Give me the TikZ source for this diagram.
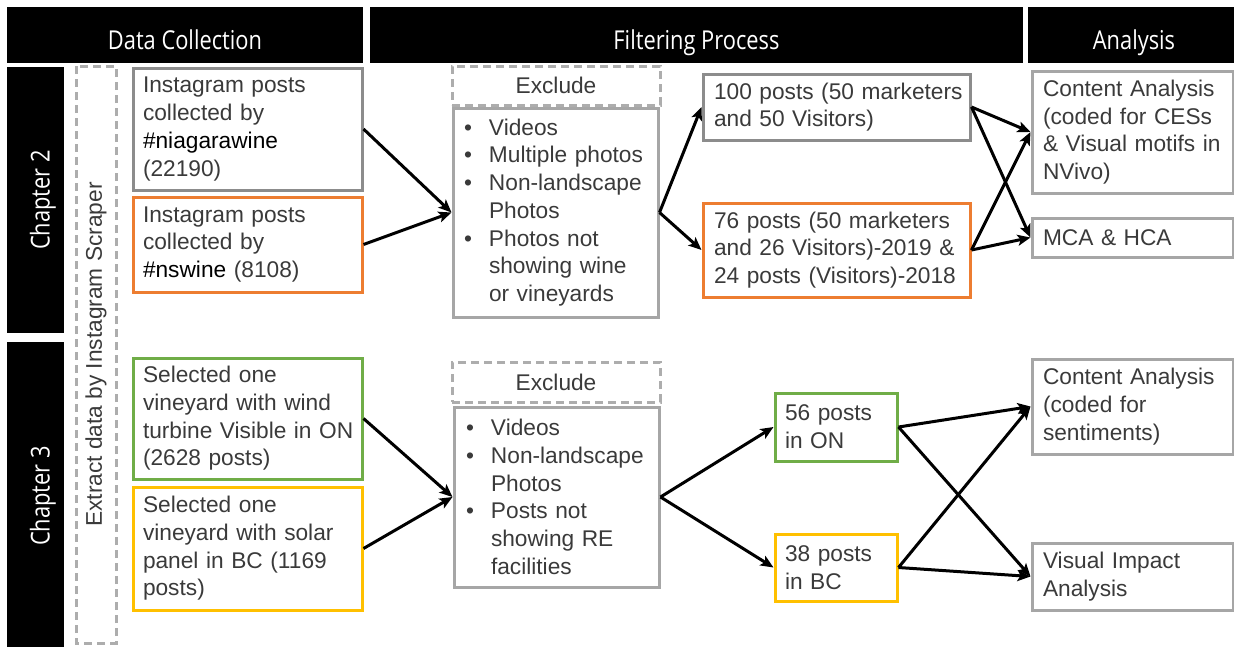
\documentclass[tikz,border=0pt]{standalone}
\usepackage{fontspec}
\setmainfont{Liberation Sans}
\newfontfamily\hdrfont[FakeStretch=0.84]{Open Sans}
\usetikzlibrary{arrows.meta}

\definecolor{darkframe}{HTML}{8C8C8C}
\definecolor{lightframe}{HTML}{A6A6A6}
\definecolor{dashframe}{HTML}{ADADAD}
\definecolor{orangeframe}{HTML}{ED7D31}
\definecolor{greenframe}{HTML}{70AD47}
\definecolor{goldframe}{HTML}{FFC000}
\definecolor{ink}{HTML}{3A3A3A}

% no hyphenation inside the boxes
\hyphenpenalty=10000
\exhyphenpenalty=10000

% bullet list helpers
\newcommand\lstbul[1]{\makebox[25pt][l]{\textbullet}\mbox{#1}}
\newcommand\lstind[1]{\hspace*{25pt}\mbox{#1}}

\begin{document}
\begin{tikzpicture}[x=1pt,y=-1pt,
  body/.style={font=\fontsize{22.7}{27.7}\selectfont, text=ink},
  framed/.style={body, draw=#1, line width=3pt, rectangle, inner xsep=10pt,
                 inner ysep=0pt, align=left},
  dashbox/.style={body, draw=dashframe, line width=3pt, dash pattern=on 8pt off 5pt,
                  rectangle, inner sep=0pt},
  bar/.style={fill=black, text=white, inner sep=0pt, text height=30pt, text depth=2pt,
              font=\hdrfont\fontsize{26}{30}\selectfont},
  link/.style={-{Stealth[length=13pt,width=11pt,inset=3pt]}, line width=3pt, black}
]
\useasboundingbox (0,0) rectangle (1234,646);

% column headers
\node[bar, minimum width=356, minimum height=56] (hdata) at (185,35) {Data Collection};
\node[bar, minimum width=653, minimum height=56] (hfilter) at (696.5,35) {Filtering Process};
\node[bar, minimum width=212, minimum height=56] (hanalysis) at (1134,35) {Analysis};

% chapter bars
\node[bar, rotate=90, minimum width=266, minimum height=57] (ch2) at (35.5,200) {Chapter 2};
\node[bar, rotate=90, minimum width=308, minimum height=57] (ch3) at (35.5,496) {Chapter 3};

% scraper band
\node[dashbox, rotate=90, minimum width=577, minimum height=40] (scraper) at (96,354.5)
  {Extract data by Instagram Scraper};

% data collection
\node[framed=darkframe, minimum width=229, text width=209, minimum height=122] (a1) at (247.5,129)
  {Instagram posts\\collected by\\{\color{black}\#niagarawine}\\(22190)};
\node[framed=orangeframe, minimum width=229, text width=209, minimum height=95] (a2) at (247.5,244.5)
  {Instagram posts\\collected by\\{\color{black}\#nswine} (8108)};
\node[framed=greenframe, minimum width=229, text width=209, minimum height=121] (a3) at (247.5,418.5)
  {Selected one\\vineyard with wind\\\mbox{turbine Visible in ON}\\(2628 posts)};
\node[framed=goldframe, minimum width=229, text width=209, minimum height=123] (a4) at (247.5,548.5)
  {Selected one\\vineyard with solar\\panel in BC (1169\\posts)};

% filtering, chapter 2
\node[dashbox, minimum width=208, minimum height=39] (ex1) at (556,85.5) {Exclude};
\node[framed=lightframe, inner xsep=11pt, minimum width=205, text width=183, minimum height=209] (l1) at (555.5,212.5)
  {\lstbul{Videos}\\\lstbul{Multiple photos}\\\lstbul{Non-landscape}\\\lstind{Photos}\\
   \lstbul{Photos not}\\\lstind{showing wine}\\\lstind{or vineyards}};
\node[framed=darkframe, inner xsep=11pt, minimum width=267, text width=245, minimum height=66] (b1) at (836.5,107)
  {\mbox{100 posts (50 marketers}\\and 50 Visitors)};
\node[framed=orangeframe, inner xsep=11pt, minimum width=267, text width=245, minimum height=94] (b2) at (836.5,250)
  {\mbox{76 posts (50 marketers}\\\mbox{and 26 Visitors)-2019 \&}\\\mbox{24 posts (Visitors)-2018}};

% filtering, chapter 3
\node[dashbox, minimum width=208, minimum height=40] (ex2) at (556,382) {Exclude};
\node[framed=lightframe, inner xsep=12pt, minimum width=205, text width=181, minimum height=180] (l2) at (556.5,497)
  {\lstbul{Videos}\\\lstbul{Non-landscape}\\\lstind{Photos}\\\lstbul{Posts not}\\
   \lstind{showing RE}\\\lstind{facilities}};
\node[framed=greenframe, minimum width=122, text width=102, minimum height=68] (c1) at (836,427)
  {56 posts\\in ON};
\node[framed=goldframe, minimum width=122, text width=102, minimum height=67] (c2) at (836,567.5)
  {38 posts\\in BC};

% analysis
\node[framed=lightframe, inner xsep=11pt, minimum width=201, text width=179, minimum height=122] (r1) at (1132.5,132)
  {Content Analysis\\(coded for CESs\\\mbox{\& Visual motifs in}\\NVivo)};
\node[framed=lightframe, inner xsep=11pt, minimum width=201, text width=179, minimum height=39] (r2) at (1132.5,237.5)
  {MCA \& HCA};
\node[framed=lightframe, inner xsep=11pt, minimum width=201, text width=179, minimum height=95] (r3) at (1132.5,406.5)
  {Content Analysis\\(coded for\\sentiments)};
\node[framed=lightframe, inner xsep=11pt, minimum width=201, text width=179, minimum height=67] (r4) at (1132.5,576.5)
  {Visual Impact\\Analysis};

% connectors, chapter 2
\draw[link] (a1.east) -- (l1.west);
\draw[link] (a2.east) -- (l1.west);
\draw[link] (l1.east) -- (b1.west);
\draw[link] (l1.east) -- (b2.west);
\draw[link] (b1.east) -- (r1.west);
\draw[link] (b1.east) -- (r2.west);
\draw[link] (b2.east) -- (r1.west);
\draw[link] (b2.east) -- (r2.west);

% connectors, chapter 3
\draw[link] (a3.east) -- (l2.west);
\draw[link] (a4.east) -- (l2.west);
\draw[link] (l2.east) -- (c1.west);
\draw[link] (l2.east) -- (c2.west);
\draw[link] (c1.east) -- (r3.west);
\draw[link] (c1.east) -- (r4.west);
\draw[link] (c2.east) -- (r3.west);
\draw[link] (c2.east) -- (r4.west);
\end{tikzpicture}
\end{document}
